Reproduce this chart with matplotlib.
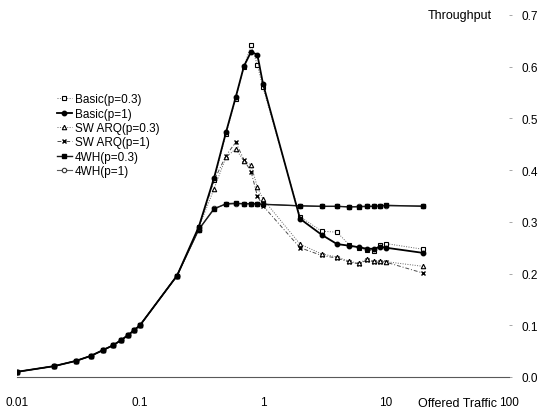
## paquetes
import matplotlib
matplotlib.use("Agg")
import matplotlib.pyplot as plt
from matplotlib.ticker import FixedLocator, FixedFormatter

plt.rcParams['font.family'] = ['Liberation Sans Narrow', 'Liberation Sans', 'DejaVu Sans']

## datos
carga = [0.01, 0.02, 0.03, 0.04, 0.05, 0.06, 0.07, 0.08, 0.09, 0.1, 0.2, 0.3,
         0.4, 0.5, 0.6, 0.7, 0.8, 0.9, 1, 2, 3, 4, 5, 6, 7, 8, 9, 10, 20]
base = [0.010, 0.021, 0.031, 0.041, 0.052, 0.061, 0.071, 0.081, 0.091, 0.100, 0.196]

basic_03 = base + [0.290, 0.380, 0.470, 0.538, 0.600, 0.642, 0.603, 0.560, 0.310, 0.282,
                   0.280, 0.256, 0.250, 0.245, 0.244, 0.255, 0.258, 0.247]
basic_1 = base + [0.290, 0.385, 0.473, 0.541, 0.601, 0.629, 0.623, 0.567, 0.306, 0.275,
                  0.257, 0.254, 0.251, 0.248, 0.248, 0.252, 0.250, 0.240]
swarq_03 = base + [0.288, 0.364, 0.425, 0.441, 0.418, 0.410, 0.367, 0.344, 0.257, 0.238,
                   0.232, 0.224, 0.220, 0.228, 0.224, 0.224, 0.223, 0.214]
swarq_1 = base + [0.288, 0.380, 0.428, 0.454, 0.420, 0.397, 0.350, 0.331, 0.250, 0.235,
                  0.230, 0.222, 0.219, 0.226, 0.222, 0.222, 0.222, 0.201]
wh4_03 = base + [0.285, 0.325, 0.335, 0.336, 0.335, 0.335, 0.335, 0.334, 0.331, 0.330,
                 0.330, 0.329, 0.329, 0.330, 0.330, 0.331, 0.332, 0.330]
wh4_1 = base + [0.285, 0.326, 0.334, 0.335, 0.335, 0.335, 0.334, 0.334, 0.331, 0.330,
                0.330, 0.329, 0.330, 0.330, 0.330, 0.331, 0.331, 0.331]

xticks = [0.01, 0.1, 1, 10, 100]
xlabels = ["0.01", "0.1", "1", "10", "100"]
yticks = [0.0, 0.1, 0.2, 0.3, 0.4, 0.5, 0.6, 0.7]

fig = plt.figure(figsize=(5.6, 4.14), dpi=100)
ax = fig.add_axes([17 / 560, 36 / 414, 492 / 560, 362 / 414])

## curvas
ax.plot(carga, wh4_1, color="0.35", lw=0.8, ls="-", marker="o", ms=3.2,
        mfc="white", mec="0.2", mew=0.8, label="4WH(p=1)", zorder=2)
ax.plot(carga, wh4_03, color="0.1", lw=1.0, ls="-", marker="s", ms=3.2,
        mfc="black", mec="black", label="4WH(p=0.3)", zorder=3)
ax.plot(carga, swarq_1, color="0.3", lw=0.7, ls=(0, (4, 2, 1, 2)), marker="x", ms=3.2,
        mec="black", mew=1.0, label="SW ARQ(p=1)", zorder=3)
ax.plot(carga, swarq_03, color="0.4", lw=0.7, ls=(0, (1, 1.5)), marker="^", ms=3.2,
        mfc="white", mec="black", mew=0.8, label="SW ARQ(p=0.3)", zorder=3)
ax.plot(carga, basic_03, color="0.4", lw=0.7, ls=(0, (1, 1.5)), marker="s", ms=3.2,
        mfc="white", mec="black", mew=0.8, label="Basic(p=0.3)", zorder=4)
ax.plot(carga, basic_1, color="black", lw=1.3, ls="-", marker="o", ms=3.2,
        mfc="black", mec="black", label="Basic(p=1)", zorder=4)

## ejes
ax.set_xscale("log")
ax.set_xlim(0.01, 100)
ax.set_ylim(0, 0.7)
ax.xaxis.set_major_locator(FixedLocator(xticks))
ax.xaxis.set_major_formatter(FixedFormatter(xlabels))
ax.xaxis.set_minor_locator(FixedLocator([]))
ax.tick_params(axis="x", length=0, pad=14, labelsize=8.5)
ax.yaxis.tick_right()
ax.set_yticks(yticks)
ax.set_yticklabels(["%.1f" % v for v in yticks])
ax.tick_params(axis="y", length=2, width=0.6, color="0.6", pad=7, labelsize=8.5)
for lado in ["top", "left", "right"]:
    ax.spines[lado].set_visible(False)
ax.spines["bottom"].set_color("0.35")
ax.spines["bottom"].set_linewidth(0.8)

ax.text(0.965, 1.0, "Throughput", transform=ax.transAxes, ha="right", va="center", fontsize=9)
ax.text(0.895, -0.073, "Offered Traffic", transform=ax.transAxes, ha="center", va="center", fontsize=9)

## leyenda en el orden de la figura
h, l = ax.get_legend_handles_labels()
orden = ["Basic(p=0.3)", "Basic(p=1)", "SW ARQ(p=0.3)", "SW ARQ(p=1)", "4WH(p=0.3)", "4WH(p=1)"]
h = [h[l.index(n)] for n in orden]
ax.legend(h, orden, loc="upper left", bbox_to_anchor=(0.07, 0.80), frameon=False,
          fontsize=8.5, handlelength=1.2, handletextpad=0.3, labelspacing=0.2, borderpad=0)

fig.savefig("out.png", dpi=100)
